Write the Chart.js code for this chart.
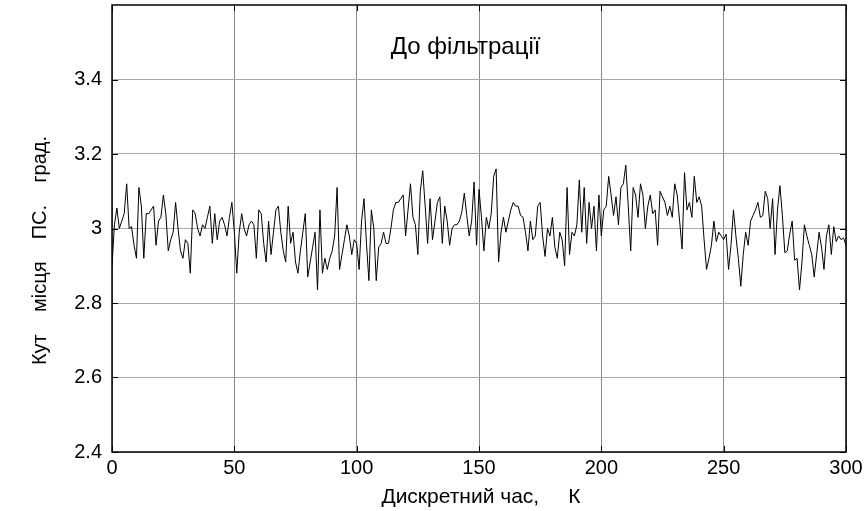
<!DOCTYPE html>
<html>
<head>
<meta charset="utf-8">
<script src="https://cdn.jsdelivr.net/npm/chart.js@4.4.1/dist/chart.umd.min.js"></script>
<style>
    html, body { margin: 0; padding: 0; background: #fff; }
    #wrap { width: 868px; height: 511px; }
</style>
</head>
<body>
<div id="wrap"><canvas id="angle-chart" width="868" height="511"></canvas></div>
<script>
// Measured elevation angle, samples 0..300, split into blocks of 50
const angle0 = [2.90, 3.01, 3.055, 3.00, 3.02, 3.04, 3.12, 3.00, 3.005, 2.955,
    2.92, 3.11, 3.06, 2.92, 3.04, 3.04, 3.05, 3.06, 2.955, 3.02,
    3.03, 3.09, 3.04, 2.94, 2.97, 2.99, 3.07, 3.00, 2.94, 2.92,
    2.97, 2.96, 2.88, 3.05, 3.04, 3.00, 2.98, 3.01, 3.00, 3.03,
    3.06, 2.96, 3.04, 2.97, 3.02, 3.03, 3.01, 2.98, 3.03, 3.07];
const angle50 = [2.99, 2.88, 2.99, 3.04, 3.00, 2.98, 3.01, 3.02, 3.01, 2.92,
    3.05, 3.04, 2.96, 2.91, 3.02, 2.93, 2.99, 3.05, 3.06, 2.99,
    2.94, 2.91, 3.06, 2.96, 2.99, 2.91, 2.88, 2.94, 2.99, 3.04,
    2.87, 2.91, 2.95, 2.99, 2.835, 3.05, 2.88, 2.92, 2.89, 2.92,
    2.94, 2.98, 3.11, 2.89, 2.93, 2.97, 3.01, 2.98, 2.93, 2.97];
const angle100 = [2.96, 2.89, 3.02, 3.08, 2.96, 2.86, 3.05, 3.00, 2.86, 2.95,
    2.96, 2.99, 2.96, 2.96, 3.00, 3.05, 3.07, 3.07, 3.08, 3.09,
    2.98, 3.05, 3.12, 3.03, 3.01, 2.93, 3.10, 3.155, 3.06, 2.96,
    3.08, 2.97, 3.02, 3.07, 3.085, 2.96, 3.06, 3.02, 2.955, 3.00,
    3.01, 3.01, 3.02, 3.045, 3.095, 3.035, 2.98, 3.02, 3.125, 2.955];
const angle150 = [3.105, 3.03, 2.94, 3.03, 3.00, 3.04, 3.14, 3.16, 2.91, 2.99,
    3.03, 2.99, 3.02, 3.05, 3.07, 3.06, 3.06, 3.035, 3.03, 2.99,
    2.94, 3.02, 2.97, 2.98, 3.06, 3.07, 2.98, 2.925, 3.00, 2.98,
    3.03, 2.95, 2.92, 2.99, 2.97, 2.90, 3.11, 2.93, 2.99, 2.98,
    3.01, 3.13, 2.99, 3.11, 2.96, 3.07, 3.00, 3.06, 2.94, 3.09];
const angle200 = [2.98, 3.05, 3.06, 3.14, 3.09, 3.035, 3.085, 3.01, 3.11, 3.12,
    3.17, 3.06, 2.94, 3.11, 3.09, 3.03, 3.12, 3.09, 3.00, 3.06,
    3.09, 3.04, 3.05, 2.955, 3.10, 3.085, 3.07, 3.035, 3.06, 3.03,
    3.12, 3.09, 3.02, 2.945, 3.15, 3.05, 3.07, 3.03, 3.14, 3.07,
    3.085, 3.06, 2.97, 2.89, 2.92, 2.955, 3.02, 2.965, 2.99, 2.98];
const angle250 = [2.97, 2.985, 2.89, 2.955, 3.05, 2.98, 2.92, 2.845, 2.93, 2.99,
    2.955, 3.02, 3.035, 3.05, 3.07, 3.03, 3.035, 3.10, 3.08, 3.00,
    3.08, 2.93, 3.05, 3.115, 3.035, 2.935, 2.94, 2.985, 3.02, 2.915,
    2.92, 2.835, 2.91, 3.01, 2.98, 2.955, 2.93, 2.87, 2.93, 2.99,
    2.95, 2.89, 2.98, 3.01, 2.93, 3.005, 2.965, 2.98, 2.97, 2.975,
    2.955];

const xTicks = [0, 50, 100, 150, 200, 250, 300];
const yTicks = [2.4, 2.6, 2.8, 3, 3.2, 3.4];

const titleText = 'До фільтрації';
const xLabel = 'Дискретний час,     К';
const yLabel = 'Кут    місця    ПС.    град.';

const angles = [].concat(angle0, angle50, angle100, angle150, angle200, angle250);
const points = angles.map((v, k) => ({ x: k, y: v }));

const fontFamily = 'Liberation Sans, Arial, sans-serif';
const tickFont = { family: fontFamily, size: 20 };

/**
 * Frame box, inward tick marks, caption and axis labels
 */
const boxPlugin = {
    id: 'boxPlugin',
    afterDatasetsDraw(chart) {
        const { ctx, chartArea: a, scales } = chart;
        ctx.save();
        ctx.strokeStyle = '#000';
        ctx.lineWidth = 1;

        // inward ticks on all four sides
        ctx.beginPath();
        xTicks.forEach(t => {
            const px = Math.round(scales.x.getPixelForValue(t)) + 0.5;
            ctx.moveTo(px, a.bottom); ctx.lineTo(px, a.bottom - 6);
            ctx.moveTo(px, a.top); ctx.lineTo(px, a.top + 6);
        });
        yTicks.forEach(t => {
            const py = Math.round(scales.y.getPixelForValue(t)) + 0.5;
            ctx.moveTo(a.left, py); ctx.lineTo(a.left + 6, py);
            ctx.moveTo(a.right, py); ctx.lineTo(a.right - 6, py);
        });
        ctx.stroke();

        ctx.lineWidth = 1.5;
        ctx.strokeRect(a.left, a.top, a.right - a.left, a.bottom - a.top);

        ctx.fillStyle = '#000';
        ctx.textAlign = 'center';

        // caption inside the axes
        ctx.font = '24px ' + fontFamily;
        ctx.textBaseline = 'middle';
        ctx.fillText(titleText, scales.x.getPixelForValue(144.5), scales.y.getPixelForValue(3.487));

        // x axis label
        ctx.font = '21px ' + fontFamily;
        ctx.textBaseline = 'alphabetic';
        ctx.fillText(xLabel, (a.left + a.right) / 2 + 2, 503);

        // y axis label, rotated
        ctx.translate(46, (a.top + a.bottom) / 2 + 22);
        ctx.rotate(-Math.PI / 2);
        ctx.font = '20px ' + fontFamily;
        ctx.fillText(yLabel, 0, 0);
        ctx.restore();
    }
};

new Chart(document.getElementById('angle-chart'), {
    type: 'line',
    data: {
        datasets: [{
            data: points,
            borderColor: '#000',
            borderWidth: 1,
            pointRadius: 0,
            tension: 0,
            fill: false
        }]
    },
    options: {
        responsive: false,
        animation: false,
        layout: { padding: { top: 5, right: 22, left: 0, bottom: 0 } },
        plugins: {
            legend: { display: false },
            tooltip: { enabled: false }
        },
        scales: {
            x: {
                type: 'linear',
                min: 0,
                max: 300,
                afterBuildTicks: scale => { scale.ticks = xTicks.map(v => ({ value: v })); },
                afterFit: scale => {
                    scale.height = 59;
                    scale.paddingLeft = 0;
                    scale.paddingRight = 0;
                },
                ticks: { color: '#000', font: tickFont, padding: 4, maxRotation: 0 },
                grid: { color: '#8a8a8a', lineWidth: 1, drawTicks: false },
                border: { display: false }
            },
            y: {
                type: 'linear',
                min: 2.4,
                max: 3.6,
                afterBuildTicks: scale => { scale.ticks = yTicks.map(v => ({ value: v })); },
                afterFit: scale => {
                    scale.width = 112;
                    scale.paddingTop = 0;
                    scale.paddingBottom = 0;
                },
                ticks: {
                    color: '#000',
                    font: tickFont,
                    padding: 10,
                    callback: v => String(v)
                },
                grid: { color: '#a8a8a8', lineWidth: 1, drawTicks: false },
                border: { display: false }
            }
        }
    },
    plugins: [boxPlugin]
});
</script>
</body>
</html>
